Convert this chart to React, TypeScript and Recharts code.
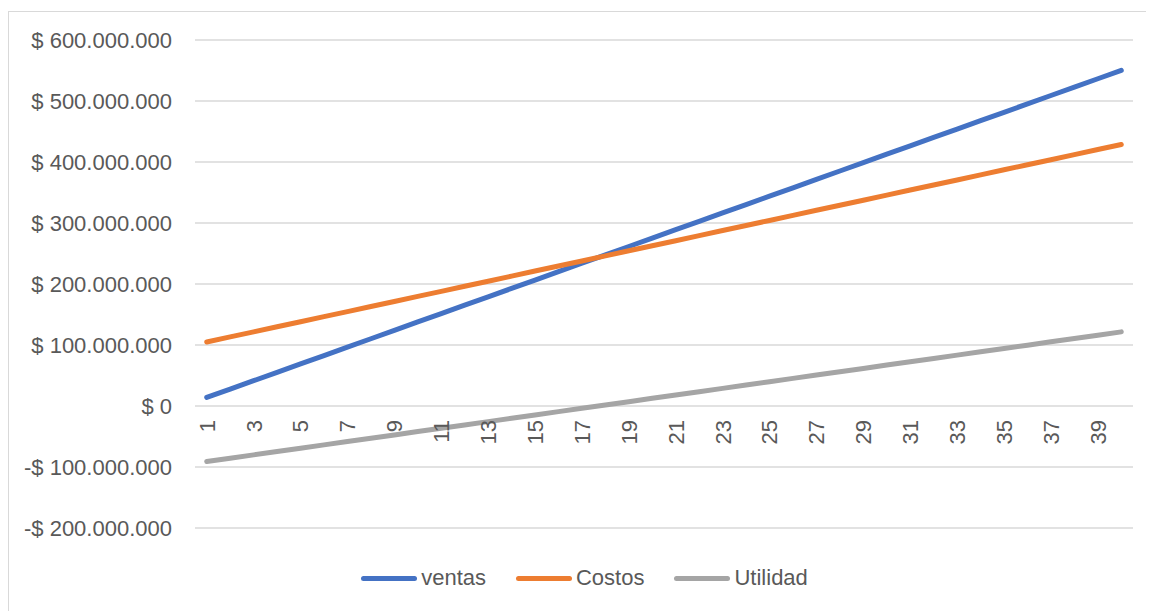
import { LineChart, Line, XAxis, YAxis, CartesianGrid, Legend } from 'recharts';

// values in millions of pesos, one per period
const periods = [
  1, 2, 3, 4, 5, 6, 7, 8, 9, 10, 11, 12, 13, 14, 15, 16, 17, 18, 19, 20,
  21, 22, 23, 24, 25, 26, 27, 28, 29, 30, 31, 32, 33, 34, 35, 36, 37, 38, 39, 40,
];
const ventas = [
  14, 27.75, 41.5, 55.25, 69, 82.75, 96.5, 110.25, 124, 137.75,
  151.5, 165.25, 179, 192.75, 206.5, 220.25, 234, 247.75, 261.5, 275.25,
  289, 302.75, 316.5, 330.25, 344, 357.75, 371.5, 385.25, 399, 412.75,
  426.5, 440.25, 454, 467.75, 481.5, 495.25, 509, 522.75, 536.5, 550.25,
];
const costos = [
  105, 113.3, 121.6, 129.9, 138.2, 146.5, 154.8, 163.1, 171.4, 179.7,
  188, 196.3, 204.6, 212.9, 221.2, 229.5, 237.8, 246.1, 254.4, 262.7,
  271, 279.3, 287.6, 295.9, 304.2, 312.5, 320.8, 329.1, 337.4, 345.7,
  354, 362.3, 370.6, 378.9, 387.2, 395.5, 403.8, 412.1, 420.4, 428.7,
];
const utilidad = [
  -91, -85.55, -80.1, -74.65, -69.2, -63.75, -58.3, -52.85, -47.4, -41.95,
  -36.5, -31.05, -25.6, -20.15, -14.7, -9.25, -3.8, 1.65, 7.1, 12.55,
  18, 23.45, 28.9, 34.35, 39.8, 45.25, 50.7, 56.15, 61.6, 67.05,
  72.5, 77.95, 83.4, 88.85, 94.3, 99.75, 105.2, 110.65, 116.1, 121.55,
];
const yTicks = [-200, -100, 0, 100, 200, 300, 400, 500, 600];

const series = [
  { key: 'ventas', name: 'ventas', color: '#4472C4' },
  { key: 'costos', name: 'Costos', color: '#ED7D31' },
  { key: 'utilidad', name: 'Utilidad', color: '#A5A5A5' },
];

const data = periods.map((p, i) => ({
  x: p,
  ventas: ventas[i],
  costos: costos[i],
  utilidad: utilidad[i],
}));

const FONT = '"Liberation Sans", Arial, sans-serif';
const TEXT = '#595959';
const FS = 22;
const W = 1146;
const H = 600;
const MARGIN = { top: 32, right: 21, bottom: 10, left: 0 };
const Y_AXIS_W = 187;
const X_AXIS_H = 30;
const LEGEND_H = 40;
const PLOT_W = W - MARGIN.left - MARGIN.right - Y_AXIS_W;
const PLOT_H = H - MARGIN.top - MARGIN.bottom - X_AXIS_H - LEGEND_H;
// Excel puts each point in the middle of its category slot
const HALF_SLOT = PLOT_W / periods.length / 2;
const Y_MIN = yTicks[0];
const Y_MAX = yTicks[yTicks.length - 1];
// the category labels sit just under the zero line, like Excel does
const ZERO_Y = MARGIN.top + (PLOT_H * Y_MAX) / (Y_MAX - Y_MIN);

const money = (v: number) => {
  const abs = Math.abs(v);
  const body = abs === 0 ? '0' : `${abs}.000.000`;
  return v < 0 ? `-$ ${body}` : `$ ${body}`;
};

const XTick = (props: any) => {
  const { x, payload } = props;
  return (
    <g transform={`translate(${x},${ZERO_Y + 14})`}>
      <text
        transform="rotate(-90)"
        textAnchor="end"
        dy="0.36em"
        fill={TEXT}
        fontSize={FS}
        fontFamily={FONT}
      >
        {payload.value}
      </text>
    </g>
  );
};

const LegendContent = () => (
  <div
    style={{
      height: LEGEND_H,
      display: 'flex',
      justifyContent: 'center',
      alignItems: 'center',
      fontFamily: FONT,
      fontSize: FS,
      color: TEXT,
      paddingLeft: 28,
    }}
  >
    {series.map((s, i) => (
      <div
        key={s.key}
        style={{ display: 'flex', alignItems: 'center', marginLeft: i === 0 ? 0 : 30 }}
      >
        <span
          style={{
            display: 'inline-block',
            width: 56,
            height: 5,
            borderRadius: 3,
            background: s.color,
            marginRight: 4,
          }}
        />
        <span>{s.name}</span>
      </div>
    ))}
  </div>
);

export default function App() {
  return (
    <div style={{ position: 'relative', width: W, height: H + 4 }}>
      <div
        style={{
          position: 'absolute',
          left: 0,
          top: 3,
          width: W - 2,
          height: H,
          borderTop: '1px solid #d9d9d9',
          borderLeft: '1px solid #d9d9d9',
          boxSizing: 'border-box',
        }}
      />
      <LineChart width={W} height={H} data={data} margin={MARGIN}>
        <CartesianGrid vertical={false} stroke="#d9d9d9" strokeWidth={1.5} />
        <XAxis
          dataKey="x"
          height={X_AXIS_H}
          axisLine={false}
          tickLine={false}
          interval={1}
          padding={{ left: HALF_SLOT, right: HALF_SLOT }}
          tick={<XTick />}
        />
        <YAxis
          width={Y_AXIS_W}
          domain={[Y_MIN, Y_MAX]}
          ticks={yTicks}
          axisLine={false}
          tickLine={false}
          tickSize={0}
          tickMargin={23}
          tickFormatter={money}
          tick={{ fill: TEXT, fontSize: FS, fontFamily: FONT }}
        />
        <Legend verticalAlign="bottom" height={LEGEND_H} content={<LegendContent />} />
        {series.map((s) => (
          <Line
            key={s.key}
            type="linear"
            dataKey={s.key}
            name={s.name}
            stroke={s.color}
            strokeWidth={5}
            strokeLinecap="round"
            dot={false}
            activeDot={false}
            isAnimationActive={false}
          />
        ))}
      </LineChart>
    </div>
  );
}
